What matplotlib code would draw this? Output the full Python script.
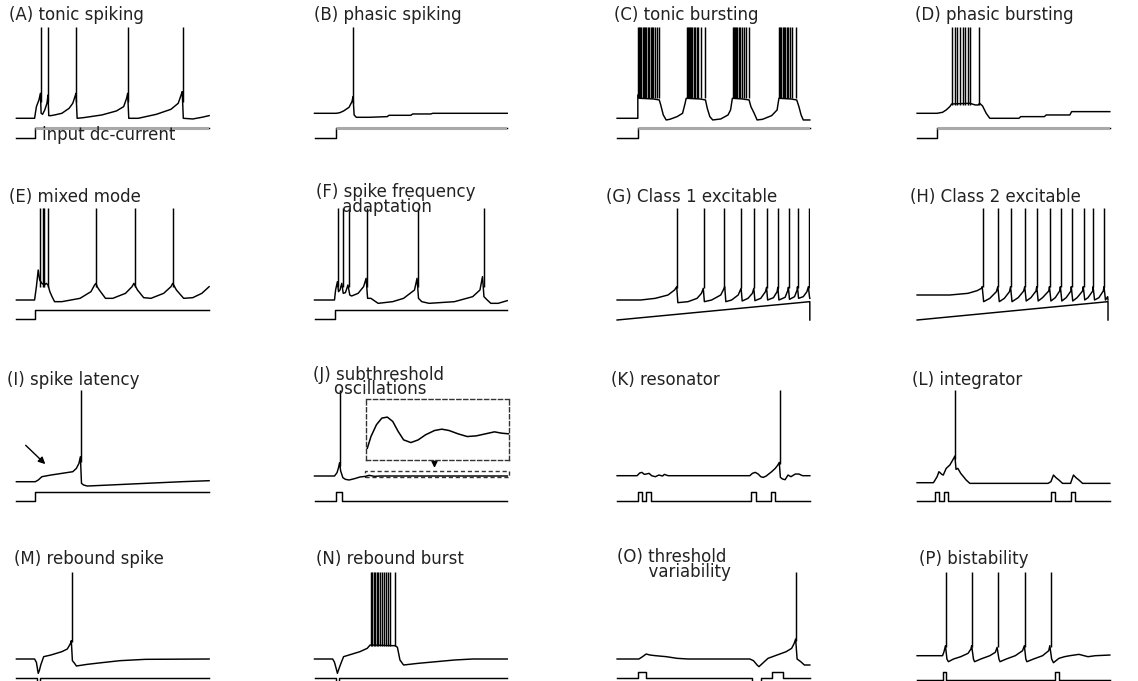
import numpy as np
import matplotlib.pyplot as plt
from matplotlib.patches import Rectangle

# membrane potential, (time, v); v is relative to the
# resting level at the start of the trace. spikes are listed separately.
A_v = [(0, 0), (50, 0), (55, 35), (62, 55), (66, 75), (68, 15), (72, 12), (78, 25), (84, 45), (87, 70),
       (89, 8), (95, 8), (105, 10), (125, 15), (145, 30), (155, 45), (161, 65), (164, 75), (167, 0),
       (185, 2), (235, 10), (275, 22), (295, 35), (303, 60), (306, 75), (309, 0), (335, 0), (385, 12),
       (425, 27), (445, 45), (453, 70), (456, 80), (459, 0), (485, -2), (510, 3), (530, 8)]
A_spk = [67, 88, 165, 307, 457]
A_in = [(0, 0), (50, 0), (50, 1), (530, 1)]

B_v = [(0, 0), (60, 0), (70, 2), (80, 7), (95, 18), (103, 35), (106, 50), (109, -5), (115, -12), (150, -12),
       (200, -10), (205, -6), (265, -6), (270, -2), (320, -2), (325, 0), (530, 0)]
B_spk = [107]
B_in = [(0, 0), (60, 0), (60, 1), (530, 1)]

C_v = [(0, 0), (57, 0), (57, 70), (62, 60), (100, 58), (116, 55), (120, 40), (127, 10), (135, -5), (145, -3),
       (165, 5), (180, 15), (187, 45), (190, 60), (228, 58), (243, 55), (248, 30), (255, 5), (263, -5),
       (285, -2), (305, 10), (312, 25), (317, 60), (345, 58), (363, 55), (368, 35), (377, 15), (385, -5),
       (400, -3), (425, 8), (440, 25), (445, 60), (478, 58), (494, 55), (500, 35), (506, 10), (512, -5),
       (530, -5)]
C_spk = [58, 61, 64, 67, 70, 73, 76, 80, 84, 88, 92, 96, 100, 104, 110, 116,
         191, 194, 197, 200, 203, 207, 211, 215, 219, 223, 230, 241,
         318, 321, 324, 327, 331, 335, 339, 343, 348, 355, 362,
         446, 449, 452, 455, 459, 463, 467, 471, 475, 482, 493]
C_in = [(0, 0), (57, 0), (57, 1), (530, 1)]

D_v = [(0, 0), (55, 0), (70, 3), (80, 10), (90, 20), (95, 28), (145, 30), (160, 25), (168, 25), (172, 30),
       (180, 22), (190, 0), (200, -15), (280, -15), (285, -10), (350, -10), (355, -5), (420, -5), (425, 5),
       (530, 5)]
D_spk = [95, 103, 110, 118, 125, 132, 140, 146, 170]
D_in = [(0, 0), (55, 0), (55, 1), (530, 1)]

E_v = [(0, 0), (50, 0), (55, 40), (60, 90), (64, 60), (70, 50), (77, 45), (82, 50), (87, 45), (92, 25),
       (98, 10), (105, -5), (125, -5), (175, 5), (205, 25), (215, 45), (219, 50), (222, 40), (228, 30),
       (245, 5), (265, 5), (300, 20), (318, 40), (323, 50), (328, 40), (333, 30), (350, 7), (370, 5),
       (405, 20), (425, 40), (430, 50), (435, 40), (440, 30), (460, 5), (485, 7), (510, 20), (530, 40)]
E_spk = [65, 72, 77, 88, 220, 325, 432]
E_in = [(0, 0), (50, 0), (50, 1), (530, 1)]

F_v = [(0, 0), (55, 0), (58, 30), (63, 55), (66, 25), (70, 30), (75, 50), (79, 20), (85, 22), (92, 45),
       (97, 15), (102, 12), (120, 20), (135, 40), (142, 65), (146, 5), (155, 5), (175, -10), (215, -5),
       (245, 5), (275, 30), (282, 65), (286, 5), (295, -5), (315, -10), (385, -5), (435, 10), (455, 30),
       (462, 70), (466, 10), (475, 0), (485, -10), (505, -10), (530, -2)]
F_spk = [65, 77, 95, 145, 285, 465]
F_in = [(0, 0), (57, 0), (57, 1), (530, 1)]

G_v = [(0, 0), (65, 0), (105, 5), (140, 15), (158, 30), (164, 40), (167, -8), (195, -5), (220, 5),
       (232, 20), (237, 35), (240, -5), (260, 0), (285, 15), (292, 30), (296, 40), (299, -5), (315, 0),
       (333, 15), (341, 35), (344, -3), (360, 5), (372, 20), (376, 35), (379, -2), (395, 5), (408, 25),
       (411, 38), (414, 0), (430, 7), (440, 25), (442, 38), (445, 0), (462, 8), (470, 30), (471, 38),
       (474, 2), (488, 10), (495, 30), (496, 40), (499, 5), (512, 10), (522, 25), (526, 40), (529, 10),
       (530, 5)]
G_spk = [165, 238, 295, 342, 377, 412, 443, 472, 497, 527]
G_in = [(0, 0), (530, 1), (530, 0)]

H_v = [(0, 0), (90, 0), (140, 5), (165, 13), (177, 20), (179, 25), (183, -20), (200, -10), (218, 10),
       (222, 25), (226, -20), (240, -10), (254, 10), (257, 25), (261, -20), (278, -8), (293, 12), (296, 25),
       (300, -18), (313, -8), (327, 12), (329, 25), (333, -18), (345, -8), (362, 12), (364, 25), (368, -18),
       (380, -8), (392, 12), (394, 25), (398, -18), (410, -8), (423, 12), (424, 25), (428, -18), (440, -8),
       (455, 12), (457, 25), (461, -15), (470, -8), (483, 12), (484, 25), (488, -15), (500, -8), (512, 12),
       (514, 25), (518, -15), (524, -5), (525, -15)]
H_spk = [180, 223, 258, 297, 330, 365, 395, 425, 458, 485, 515]
H_in = [(0, 0), (525, 1), (525, 0)]

I_v = [(0, 0), (52, 0), (60, 5), (70, 15), (95, 20), (125, 25), (155, 30), (165, 40), (172, 55), (176, 75),
       (179, -5), (185, -10), (195, -13), (255, -10), (355, -5), (455, 0), (530, 3)]
I_spk = [177]
I_in = [(0, 0), (52, 0), (52, 1), (530, 1)]

J_v = [(0, 0), (55, 0), (62, 10), (66, 25), (69, 40), (72, 15), (78, -5), (85, -10), (95, -12), (110, -8),
       (125, -3), (140, -1), (150, 2), (165, -1), (180, 0), (530, 0)]
J_spk = [70]
J_in = [(0, 0), (60, 0), (60, 1), (75, 1), (75, 0), (530, 0)]
# magnified part of the J trace shown in the dashed box
J_zoom = [(5, 35), (15, 70), (30, 105), (45, 125), (60, 128), (75, 115), (90, 85), (105, 60), (125, 52),
          (145, 60), (165, 75), (190, 88), (210, 92), (230, 88), (255, 78), (280, 70), (305, 72), (330, 78),
          (355, 84), (375, 80), (395, 78)]

K_v = [(0, 0), (55, 0), (62, 8), (68, 10), (75, 4), (80, 5), (88, 7), (95, 0), (105, -3), (115, 2),
       (125, -1), (130, 4), (140, 0), (365, 0), (372, 7), (380, 10), (388, 5), (395, -3), (402, -5),
       (410, -1), (425, 12), (435, 22), (442, 32), (446, 40), (449, -5), (455, -10), (462, -12), (470, 2),
       (478, -3), (490, 5), (500, 5), (510, 0), (530, 0)]
K_spk = [447]
K_in = [(0, 0), (58, 0), (58, 1), (68, 1), (68, 0), (80, 0), (80, 1), (92, 1), (92, 0), (367, 0), (367, 1),
        (382, 1), (382, 0), (423, 0), (423, 1), (435, 1), (435, 0), (530, 0)]

L_v = [(0, 0), (45, 0), (55, 18), (60, 33), (68, 25), (72, 23), (80, 43), (90, 53), (98, 68), (104, 80),
       (107, 40), (112, 43), (120, 28), (135, 8), (145, -2), (360, -2), (368, 3), (375, 23), (382, 15),
       (390, 8), (400, -2), (422, -2), (430, 23), (437, 15), (445, 8), (455, -2), (530, -2)]
L_spk = [105]
L_in = [(0, 0), (48, 0), (48, 1), (60, 1), (60, 0), (75, 0), (75, 1), (85, 1), (85, 0), (368, 0), (368, 1),
        (380, 1), (380, 0), (422, 0), (422, 1), (435, 1), (435, 0), (530, 0)]

M_v = [(0, 0), (50, 0), (55, -10), (58, -30), (60, -43), (63, -35), (67, -18), (75, 7), (95, 12), (125, 22),
       (140, 30), (148, 45), (151, 55), (154, -5), (160, -13), (165, -21), (195, -16), (235, -11), (285, -5),
       (355, -1), (530, 0)]
M_spk = [152]
M_in = [(0, 0), (58, 0), (58, -1), (65, -1), (65, 0), (530, 0)]

N_v = [(0, 0), (50, 0), (55, -10), (60, -30), (63, -43), (67, -30), (72, -15), (80, 7), (95, 12), (125, 22),
       (145, 32), (153, 42), (215, 40), (222, 40), (228, 35), (235, -3), (245, -18), (285, -13), (335, -8),
       (385, -3), (435, 0), (530, 0)]
N_spk = [155, 159, 163, 167, 171, 175, 180, 185, 190, 196, 202, 208, 220]
N_in = [(0, 0), (60, 0), (60, -1), (67, -1), (67, 0), (530, 0)]

O_v = [(0, 0), (60, 0), (70, 7), (80, 15), (90, 12), (105, 10), (135, 7), (165, 2), (195, 0), (365, 0),
       (375, -5), (385, -18), (390, -23), (400, -13), (415, 2), (440, 12), (465, 22), (480, 32), (487, 47),
       (491, 60), (495, 0), (505, -8), (515, -18), (530, -18)]
O_spk = [493]
O_in = [(0, 0), (58, 0), (58, 1), (80, 1), (80, 0), (370, 0), (370, -1), (395, -1), (395, 0), (425, 0),
        (425, 1), (455, 1), (455, 0), (530, 0)]

P_v = [(0, 0), (70, 0), (74, 12), (78, 30), (82, -10), (86, -18), (100, -10), (120, -3), (140, 7), (148, 20),
       (150, 30), (155, -10), (158, -18), (175, -10), (200, 0), (215, 10), (220, 25), (225, -10), (228, -18),
       (245, -10), (270, 0), (290, 15), (295, 30), (299, -10), (302, -18), (320, -10), (345, 0), (362, 15),
       (365, 30), (370, -10), (375, -21), (390, -8), (405, -3), (420, 0), (445, 4), (470, -3), (490, 0),
       (530, 2)]
P_spk = [80, 152, 223, 297, 367]
P_in = [(0, 0), (70, 0), (70, 1), (80, 1), (80, 0), (380, 0), (380, 1), (390, 1), (390, 0), (530, 0)]

titles = ["(A) tonic spiking", "(B) phasic spiking", "(C) tonic bursting", "(D) phasic bursting",
          "(E) mixed mode", "(F) spike frequency\n     adaptation", "(G) Class 1 excitable",
          "(H) Class 2 excitable", "(I) spike latency", "(J) subthreshold\n    oscillations",
          "(K) resonator", "(L) integrator", "(M) rebound spike", "(N) rebound burst",
          "(O) threshold\n      variability", "(P) bistability"]
peaks = [275, 260, 275, 260, 275, 275, 275, 260, 275, 258, 257, 278, 262, 262, 262, 252]
feet = [50, 30, 60, 25, 40, 40, 35, 25, 60, 30, 35, 70, 50, 40, 55, 25]

traces = [A_v, B_v, C_v, D_v, E_v, F_v, G_v, H_v, I_v, J_v, K_v, L_v, M_v, N_v, O_v, P_v]
spikes = [A_spk, B_spk, C_spk, D_spk, E_spk, F_spk, G_spk, H_spk,
          I_spk, J_spk, K_spk, L_spk, M_spk, N_spk, O_spk, P_spk]
inputs = [A_in, B_in, C_in, D_in, E_in, F_in, G_in, H_in, I_in, J_in, K_in, L_in, M_in, N_in, O_in, P_in]

# ---- layout (pixels of the 1138x681 picture) ----
W, H = 1138, 681
XS, YS = 2.75, 3.0          # data units per pixel
TW = 530
VLO, VHI = -110, 290
col_x = [16.4, 314.5, 617.1, 917.1]
base_y = [118.3, 113.3, 118.3, 113.3, 300, 300, 300, 295,
          481.7, 476, 475.7, 482.7, 659, 659, 659, 655.7]
in_pos = [(-60, 32), (-73, 30), (-58, 28), (-73, 28), (-58, 28), (-58, 28), (-60, 55), (-75, 55),
          (-58, 28), (-75, 28), (-76, 28), (-55, 28), (-56, 28), (-56, 28), (-56, 16), (-73, 23)]
# left edge and baseline of the (last line of the) panel label
title_xy = [(9, 20.5), (314.5, 20.5), (614.5, 20.5), (915, 20.5),
            (9, 201.7), (316.4, 211.7), (606, 201.7), (909.8, 201.7),
            (7.3, 385), (312.7, 394.5), (610.9, 385), (911.6, 385),
            (14.5, 564.3), (316.4, 564.3), (617.1, 576.7), (918.9, 564.3)]

FONT = dict(family='DejaVu Sans', fontsize=12, color='#222222', linespacing=0.75)
LW = 1.05

fig = plt.figure(figsize=(W / 100, H / 100), dpi=100)


def px_axes(x, y_top, w, h):
    return fig.add_axes([x / W, 1 - (y_top + h) / H, w / W, h / H])


for i in range(16):
    ax = px_axes(col_x[i % 4], base_y[i] - VHI / YS, TW / XS, (VHI - VLO) / YS)
    ax.set_xlim(0, TW)
    ax.set_ylim(VLO, VHI)
    ax.axis('off')

    t, v = np.array(traces[i], dtype=float).T
    ax.plot(t, v, color='k', lw=LW, clip_on=False)
    ax.vlines(spikes[i], feet[i], peaks[i], color='k', lw=LW)

    it, il = np.array(inputs[i], dtype=float).T
    y0, amp = in_pos[i]
    yi = y0 + amp * il
    ax.plot(it, yi, color='k', lw=LW, clip_on=False)
    if i < 4:
        ax.plot(it, np.where(il > 0.5, yi, np.nan), color='#a9a9a9', lw=2.2,
                solid_capstyle='butt')

    tx, ty = title_xy[i]
    fig.text(tx / W, 1 - ty / H, titles[i], ha='left', va='baseline', **FONT)

    if i == 0:
        fig.text(41.5 / W, 1 - 140.5 / H, "input dc-current", ha='left', va='baseline', **FONT)
    if i == 8:
        ax.annotate('', xy=(85, 47), xytext=(20, 115),
                    arrowprops=dict(arrowstyle='-|>', color='k', lw=1.0, mutation_scale=10))
    if i == 9:
        ax.add_patch(Rectangle((140, -3), 395, 18, fill=False, ec='#333333', lw=1.0,
                               ls=(0, (3, 2)), clip_on=False))
        ax.annotate('', xy=(330, 16), xytext=(330, 42),
                    arrowprops=dict(arrowstyle='-|>', color='k', lw=1.0, mutation_scale=9))
        ins = px_axes(365.5, 399, 143.5, 61)
        zt, zv = np.array(J_zoom, dtype=float).T
        ins.plot(zt, zv, color='k', lw=1.1)
        ins.set_xlim(0, 395)
        ins.set_ylim(0, 182)
        ins.set_xticks([])
        ins.set_yticks([])
        ins.patch.set_alpha(0)
        for sp in ins.spines.values():
            sp.set_linestyle((0, (3, 2)))
            sp.set_linewidth(1.0)
            sp.set_edgecolor('#333333')

fig.savefig('out.png', dpi=100)
